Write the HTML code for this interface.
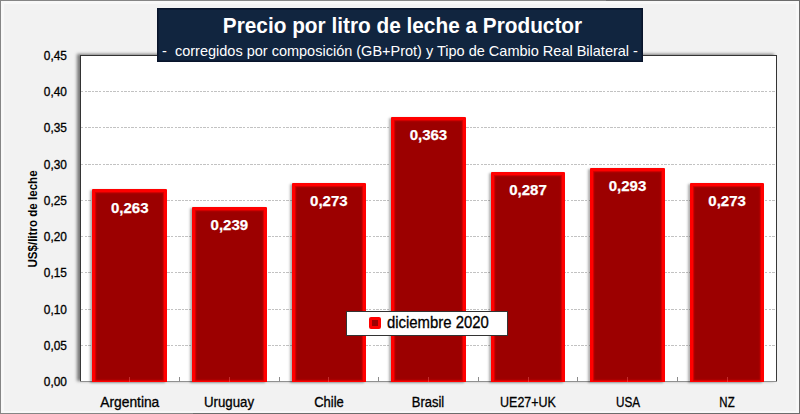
<!DOCTYPE html>
<html lang="es">
<head>
<meta charset="utf-8">
<title>Precio por litro de leche a Productor</title>
<style>
html,body{margin:0;padding:0;}
body{width:800px;height:414px;overflow:hidden;background:#f2f2f2;font-family:"Liberation Sans",sans-serif;}
#chart{position:relative;width:800px;height:414px;background:#f2f2f2;overflow:hidden;}
#frame{position:absolute;left:0;top:0;width:800px;height:414px;background:linear-gradient(135deg,#858585 0,#858585 50%,#6c6c6c 50%,#6c6c6c 100%);}
#frame i{position:absolute;left:1px;top:1px;right:1.5px;bottom:1.5px;background:#f8f8f8;}
#frame b{position:absolute;left:4px;top:4px;right:4px;bottom:3.5px;background:#f2f2f2;}
#plot{position:absolute;left:80px;top:55px;width:696.9px;height:327px;background:linear-gradient(#333 0,#3a3a3a calc(100% - 1.5px),#909090 calc(100% - 1px));box-shadow:-3px -1px 3px rgba(0,0,0,.5);}
#plot i{position:absolute;left:1px;top:1px;right:1.3px;bottom:1px;background:#fff;}
.grid{position:absolute;left:81px;width:694.9px;height:1px;background:repeating-linear-gradient(90deg,#c2c2c2 0,#c2c2c2 2.4px,transparent 2.4px,transparent 3.6px);}
.bar{position:absolute;box-sizing:border-box;width:74.7px;background:#9c0000;border:3px solid #ff0000;border-bottom-width:1px;border-radius:1px 1px 0 0;box-shadow:-2px 1px 2.5px rgba(0,0,0,.32), inset 0 0 1.5px 1px #e00000;}
.val{position:absolute;width:74.7px;text-align:center;color:#fff;font-weight:bold;font-size:15px;line-height:16px;-webkit-text-stroke:.25px #fff;margin-top:.3px;}
.ylab{position:absolute;left:20px;width:47px;text-align:right;font-size:11.9px;line-height:14px;color:#000;-webkit-text-stroke:.3px #000;}
.xlab{position:absolute;top:394.5px;width:100px;text-align:center;font-size:13.8px;line-height:16px;color:#000;-webkit-text-stroke:.3px #000;}
.tick{position:absolute;top:377px;width:1px;height:5px;background:#8c8c8c;}
#ytitle{position:absolute;left:33px;top:219px;width:0;height:0;}
#ytitle span{position:absolute;left:-60px;top:-8px;width:120px;height:16px;line-height:16px;text-align:center;font-weight:bold;font-size:12.8px;transform:rotate(-90deg) scaleX(.905);white-space:nowrap;color:#000;}
#titlebox{position:absolute;left:157px;top:8px;width:485.5px;height:53.5px;background:#11253f;box-shadow:0 0 0 1.5px #08142b inset;}
#title{position:absolute;left:160px;top:14px;width:485px;text-align:center;color:#fff;font-weight:bold;font-size:21.4px;line-height:24px;white-space:nowrap;transform:scaleX(.972);}
#subtitle{position:absolute;left:157.5px;top:41.5px;width:485px;text-align:center;color:#fff;font-size:14.5px;line-height:18px;white-space:pre;}
#legend{position:absolute;left:346px;top:310.5px;width:160px;height:23px;background:#fff;border:1px solid #333;}
#legend .sw{position:absolute;left:21.5px;top:5.5px;width:6px;height:6px;background:#9c0000;border:3px solid #ff0000;border-radius:2px;}
#legend .lt{position:absolute;left:40px;top:1.5px;font-size:15.7px;line-height:19px;color:#000;white-space:nowrap;transform:scaleX(.949);transform-origin:0 50%;-webkit-text-stroke:.3px #000;}
</style>
</head>
<body>
<div id="chart">
  <div id="frame"><i></i><b></b></div>
  <div id="plot"><i></i></div>
  <div class="grid" style="top:344.78px"></div>
  <div class="grid" style="top:308.56px"></div>
  <div class="grid" style="top:272.33px"></div>
  <div class="grid" style="top:236.11px"></div>
  <div class="grid" style="top:199.89px"></div>
  <div class="grid" style="top:163.67px"></div>
  <div class="grid" style="top:127.44px"></div>
  <div class="grid" style="top:91.22px"></div>
  <div class="tick" style="left:179.06px"></div>
  <div class="tick" style="left:278.61px"></div>
  <div class="tick" style="left:378.17px"></div>
  <div class="tick" style="left:477.73px"></div>
  <div class="tick" style="left:577.29px"></div>
  <div class="tick" style="left:676.84px"></div>
  <div class="bar" style="left:92.43px;top:189.47px;height:192.53px"></div>
  <div class="bar" style="left:191.99px;top:207.16px;height:174.84px"></div>
  <div class="bar" style="left:291.54px;top:182.73px;height:199.27px"></div>
  <div class="bar" style="left:391.1px;top:116.53px;height:265.47px"></div>
  <div class="bar" style="left:490.66px;top:172.08px;height:209.92px"></div>
  <div class="bar" style="left:590.21px;top:167.54px;height:214.46px"></div>
  <div class="bar" style="left:689.77px;top:182.53px;height:199.47px"></div>
  <div class="tick" style="left:129.28px;background:rgba(255,110,110,.4)"></div>
  <div class="tick" style="left:228.84px;background:rgba(255,110,110,.4)"></div>
  <div class="tick" style="left:328.39px;background:rgba(255,110,110,.4)"></div>
  <div class="tick" style="left:427.95px;background:rgba(255,110,110,.4)"></div>
  <div class="tick" style="left:527.51px;background:rgba(255,110,110,.4)"></div>
  <div class="tick" style="left:627.06px;background:rgba(255,110,110,.4)"></div>
  <div class="tick" style="left:726.62px;background:rgba(255,110,110,.4)"></div>
  <div class="val" style="left:92.43px;top:199.47px">0,263</div>
  <div class="val" style="left:191.99px;top:217.16px">0,239</div>
  <div class="val" style="left:291.54px;top:192.73px">0,273</div>
  <div class="val" style="left:391.1px;top:126.53px">0,363</div>
  <div class="val" style="left:490.66px;top:182.08px">0,287</div>
  <div class="val" style="left:590.21px;top:177.54px">0,293</div>
  <div class="val" style="left:689.77px;top:192.53px">0,273</div>
  <div class="ylab" style="top:49px">0,45</div>
  <div class="ylab" style="top:85.22px">0,40</div>
  <div class="ylab" style="top:121.44px">0,35</div>
  <div class="ylab" style="top:157.67px">0,30</div>
  <div class="ylab" style="top:193.89px">0,25</div>
  <div class="ylab" style="top:230.11px">0,20</div>
  <div class="ylab" style="top:266.33px">0,15</div>
  <div class="ylab" style="top:302.56px">0,10</div>
  <div class="ylab" style="top:338.78px">0,05</div>
  <div class="ylab" style="top:375px">0,00</div>
  <div class="xlab" style="left:79.78px">Argentina</div>
  <div class="xlab" style="left:179.34px;transform:scaleX(0.96)">Uruguay</div>
  <div class="xlab" style="left:278.89px;transform:scaleX(0.94)">Chile</div>
  <div class="xlab" style="left:378.45px;transform:scaleX(0.94)">Brasil</div>
  <div class="xlab" style="left:478.01px;transform:scaleX(0.905)">UE27+UK</div>
  <div class="xlab" style="left:577.56px;transform:scaleX(0.85)">USA</div>
  <div class="xlab" style="left:677.12px;transform:scaleX(0.83)">NZ</div>
  <div id="ytitle"><span>US$/litro de leche</span></div>
  <div id="titlebox"></div>
  <div id="title">Precio por litro de leche a Productor</div>
  <div id="subtitle">-  corregidos por composición (GB+Prot) y Tipo de Cambio Real Bilateral -</div>
  <div id="legend"><div class="sw"></div><div class="lt">diciembre 2020</div></div>
</div>
</body>
</html>
